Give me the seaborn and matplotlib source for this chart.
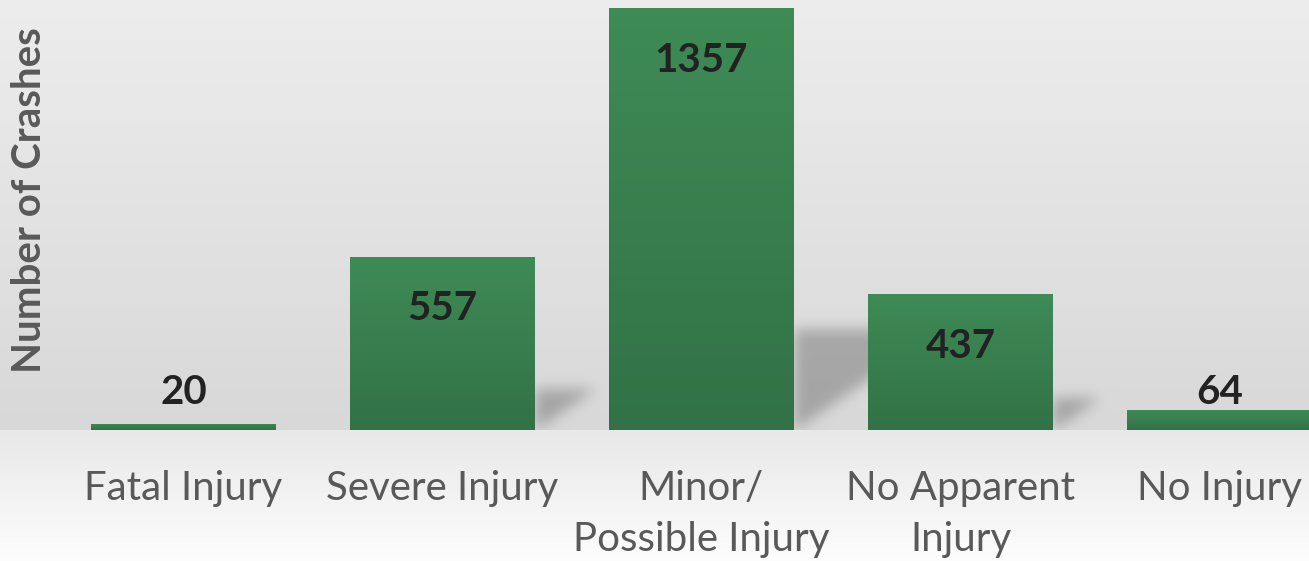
import numpy as np
import pandas as pd
import matplotlib.pyplot as plt
import seaborn as sns

sns.set_style("white")
plt.rcParams['font.family'] = ['Lato', 'DejaVu Sans']

# data
categories = ["Fatal Injury", "Severe Injury", "Minor/\nPossible Injury",
              "No Apparent\nInjury", "No Injury"]
crashes = [20, 557, 1357, 437, 64]

df = pd.DataFrame({"severity": categories, "crashes": crashes})

W, H = 1309, 561
fig = plt.figure(figsize=(W / 100, H / 100), dpi=100)
base_px = 430

ax = fig.add_axes([54 / W, (H - base_px) / H, 1295 / W, base_px / H])
ax.patch.set_alpha(0)

sns.barplot(data=df, x="severity", y="crashes", color="#38804f", width=0.714,
            saturation=1, linewidth=0, edgecolor="none", ax=ax, zorder=3)

ymax = 1357 * base_px / 422
ax.set_xlim(-0.5, 4.5)
ax.set_ylim(0, ymax)
px_y = ymax / base_px   # data units per pixel

# per-bar vertical gradient
top_c = np.array([62, 139, 86]) / 255
bot_c = np.array([50, 114, 70]) / 255
t = np.linspace(0, 1, 64)[:, None, None]
grad = top_c * (1 - t) + bot_c * t

# background: grey wall + light floor, with soft cast shadows
rows = np.arange(H)[:, None]
cols = np.arange(W)[None, :]
shade = np.where(rows < base_px,
                 237 - 21 * rows / base_px,
                 232 + 21 * (rows - base_px) / (H - base_px)) * np.ones((1, W))
mask = np.zeros((H, W))

for p in ax.patches[:]:
    x0, w, h = p.get_x(), p.get_width(), p.get_height()
    im = ax.imshow(grad, extent=[x0, x0 + w, 0, h], aspect="auto", zorder=3.5)
    im.set_clip_path(p)
    # shadow triangle in pixel space, from the bar's right edge
    (xr, yb), (_, yt) = ax.transData.transform([(x0 + w, 0), (x0 + w, 0.24 * h)])
    yb, yt = H - yb, H - yt
    L = 0.35 * (yb - (H - ax.transData.transform((0, h))[1]))
    if L < 1:
        continue
    inside = (cols >= xr) & (rows >= yt) & (rows <= yb - (cols - xr) * (yb - yt) / L)
    mask[inside] = 1

k = np.ones(13) / 13
for _ in range(3):
    mask = np.apply_along_axis(lambda r: np.convolve(r, k, mode="same"), 1, mask)
    mask = np.apply_along_axis(lambda c: np.convolve(c, k, mode="same"), 0, mask)
mask[base_px:] = 0
shade = shade * (1 - 0.24 * mask)

bg = fig.add_axes([0, 0, 1, 1], zorder=-5)
bg.imshow(np.dstack([shade] * 3) / 255, interpolation="none", aspect="auto",
          extent=[0, 1, 0, 1])
bg.axis("off")

for i, v in enumerate(crashes):
    ax.text(i, max(v - 52 * px_y, 119), str(v), ha="center", va="center",
            fontsize=29, fontweight="bold", color="#222222", zorder=5)

ax.set_xlim(-0.5, 4.5)
ax.set_ylim(0, ymax)
ax.set_yticks([])
ax.set_xlabel("")
ax.set_ylabel("")
for sp in ax.spines.values():
    sp.set_visible(False)
ax.tick_params(axis="x", length=0, pad=29, labelsize=29, labelcolor="#595959")
for lab in ax.get_xticklabels():
    lab.set_linespacing(1.45)
    lab.set_verticalalignment("top")

fig.text(30 / W, 1 - 200 / H, "Number of Crashes", rotation=90, ha="center",
         va="center", fontsize=29, fontweight="bold", color="#595959")

fig.savefig("out.png", dpi=100)
